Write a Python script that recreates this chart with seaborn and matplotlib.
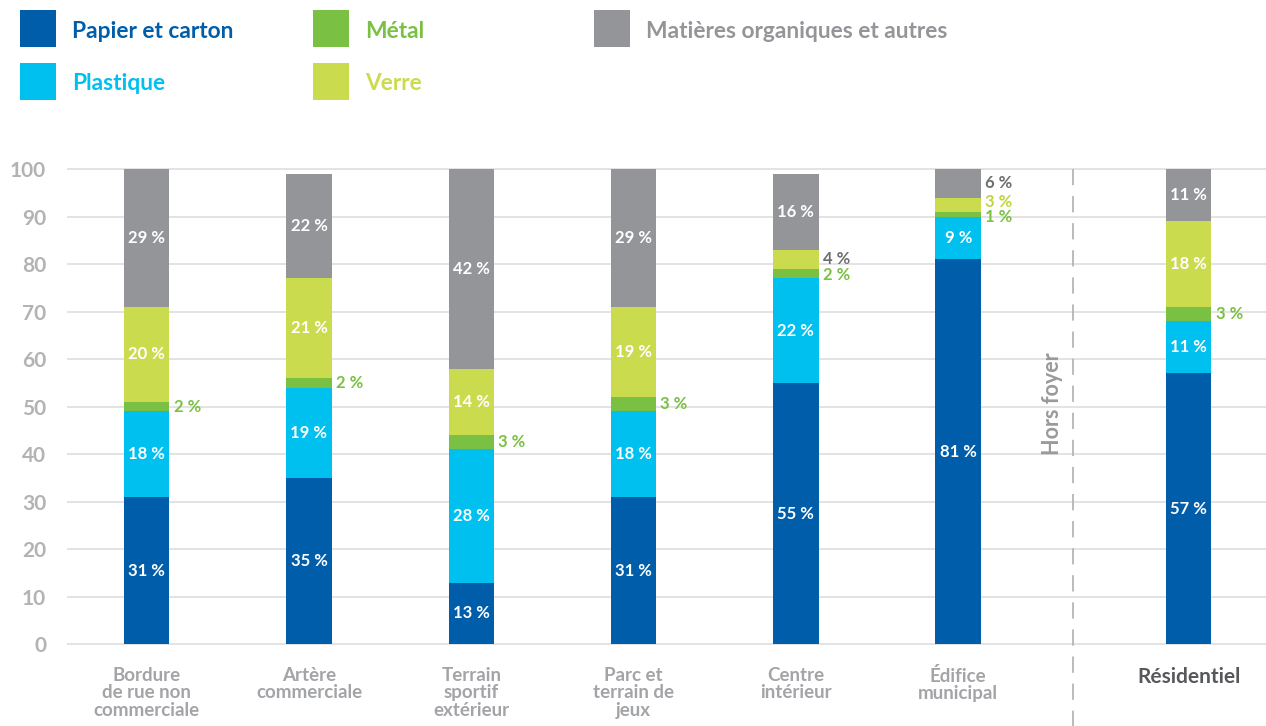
import numpy as np
import matplotlib
matplotlib.use("Agg")
import matplotlib.pyplot as plt
from matplotlib.patches import Rectangle
import seaborn as sns

# --- data -------------------------------------------------------------
categories = [
    "Bordure\nde rue non\ncommerciale",
    "Artère\ncommerciale",
    "Terrain\nsportif\nextérieur",
    "Parc et\nterrain de\njeux",
    "Centre\nintérieur",
    "Édifice\nmunicipal",
    "Résidentiel",
]
materials = ["Papier et carton", "Plastique", "Métal", "Verre",
             "Matières organiques et autres"]

papier = [31, 35, 13, 31, 55, 81, 57]
plastique = [18, 19, 28, 18, 22, 9, 11]
metal = [2, 2, 3, 3, 2, 1, 3]
verre = [20, 21, 14, 19, 4, 3, 18]
organique = [29, 22, 42, 29, 16, 6, 11]

yticks = list(range(0, 101, 10))
separator_label = "Hors foyer"

# --- style ------------------------------------------------------------
colors = ["#005DAA", "#00C0F0", "#7AC143", "#CBDB4E", "#939598"]
outside_colors = ["#005DAA", "#00C0F0", "#7AC143", "#C2D43F", "#6D6E71"]

sns.set_theme(style="white")
plt.rcParams["font.family"] = ["Lato", "DejaVu Sans"]
plt.rcParams["font.weight"] = "bold"

# x positions: the residential column sits after a wider gap
positions = [0, 1, 2, 3, 4, 5, 6.42]
sep_x = 5.71
bar_w = 0.28

fig = plt.figure(figsize=(12.66, 7.26), dpi=100)
W, H = 1266, 726
ax = fig.add_axes([67 / W, (H - 644.3) / H, 1 - 67 / W, (644.3 - 169) / H])

series = np.array([papier, plastique, metal, verre, organique], dtype=float)
tops = np.cumsum(series, axis=0)
bottoms = tops - series

# stacked bars: draw cumulative heights from the top layer down
for k in range(len(materials) - 1, -1, -1):
    sns.barplot(x=positions, y=tops[k], native_scale=True, width=bar_w,
                color=colors[k], saturation=1, linewidth=0,
                errorbar=None, ax=ax, zorder=2)

ax.set_xlim((67 - 146.7) / 162.3, (1266 - 146.7) / 162.3)
ax.set_ylim(0, 100)
for s in ax.spines.values():
    s.set_visible(False)

# gridlines
ax.hlines(yticks, ax.get_xlim()[0], ax.get_xlim()[1], colors="#E0E0E0",
          linewidth=1.3, zorder=0, clip_on=False)

ax.set_yticks(yticks)
ax.set_yticklabels([str(t) for t in yticks], fontsize=15, color="#B3B3B3",
                   fontweight="bold")
ax.tick_params(axis="y", length=0, pad=15)

ax.set_xticks(positions)
ax.set_xticklabels(categories, fontsize=13.5, color="#A3A4A7",
                   fontweight="bold", linespacing=1.05)
ax.tick_params(axis="x", length=0, pad=16)
lab = ax.get_xticklabels()[-1]
lab.set_color("#57585B")
lab.set_fontsize(15)
ax.set_xlabel("")
ax.set_ylabel("")

# segment labels
nudges = {(5, 3): 3, (5, 2): -2.5, (4, 3): 0.5, (4, 2): -1}
color_override = {(4, 3): "#6D6E71"}
for i, x in enumerate(positions):
    for k in range(len(materials)):
        v = series[k, i]
        yc = (bottoms[k, i] + tops[k, i]) / 2
        txt = f"{int(v)} %"
        if v >= 9:
            ax.text(x, yc, txt, ha="center", va="center", color="white",
                    fontsize=12, fontweight="bold", zorder=3)
        else:
            c = color_override.get((i, k), outside_colors[k])
            ax.annotate(txt, xy=(x + bar_w / 2, yc),
                        xytext=(3, nudges.get((i, k), 0) * 0.72),
                        textcoords="offset points", ha="left", va="center",
                        color=c, fontsize=12, fontweight="bold", zorder=3)

# separator between off-home and residential
line, = ax.plot([sep_x, sep_x], [100, -17.2], color="#B5B5B5", lw=1.3,
                clip_on=False, zorder=1)
line.set_dashes((9, 6))
ax.text(sep_x - 0.13, 50.6, separator_label, rotation=90, ha="center",
        va="center", color="#9A9A9A", fontsize=15.5, fontweight="bold")

# legend
legend_slots = [
    (20, 10), (20, 63), (313, 10), (313, 63), (594, 10),
]
for k, (lx, ly) in enumerate(legend_slots):
    fig.patches.append(Rectangle((lx / W, 1 - (ly + 37) / H), 36 / W, 37 / H,
                                 transform=fig.transFigure, color=colors[k],
                                 linewidth=0))
    fig.text((lx + 52) / W, 1 - (ly + 21) / H, materials[k],
             ha="left", va="center", color=colors[k],
             fontsize=16.4, fontweight="bold")

fig.savefig("out.png", dpi=100)
